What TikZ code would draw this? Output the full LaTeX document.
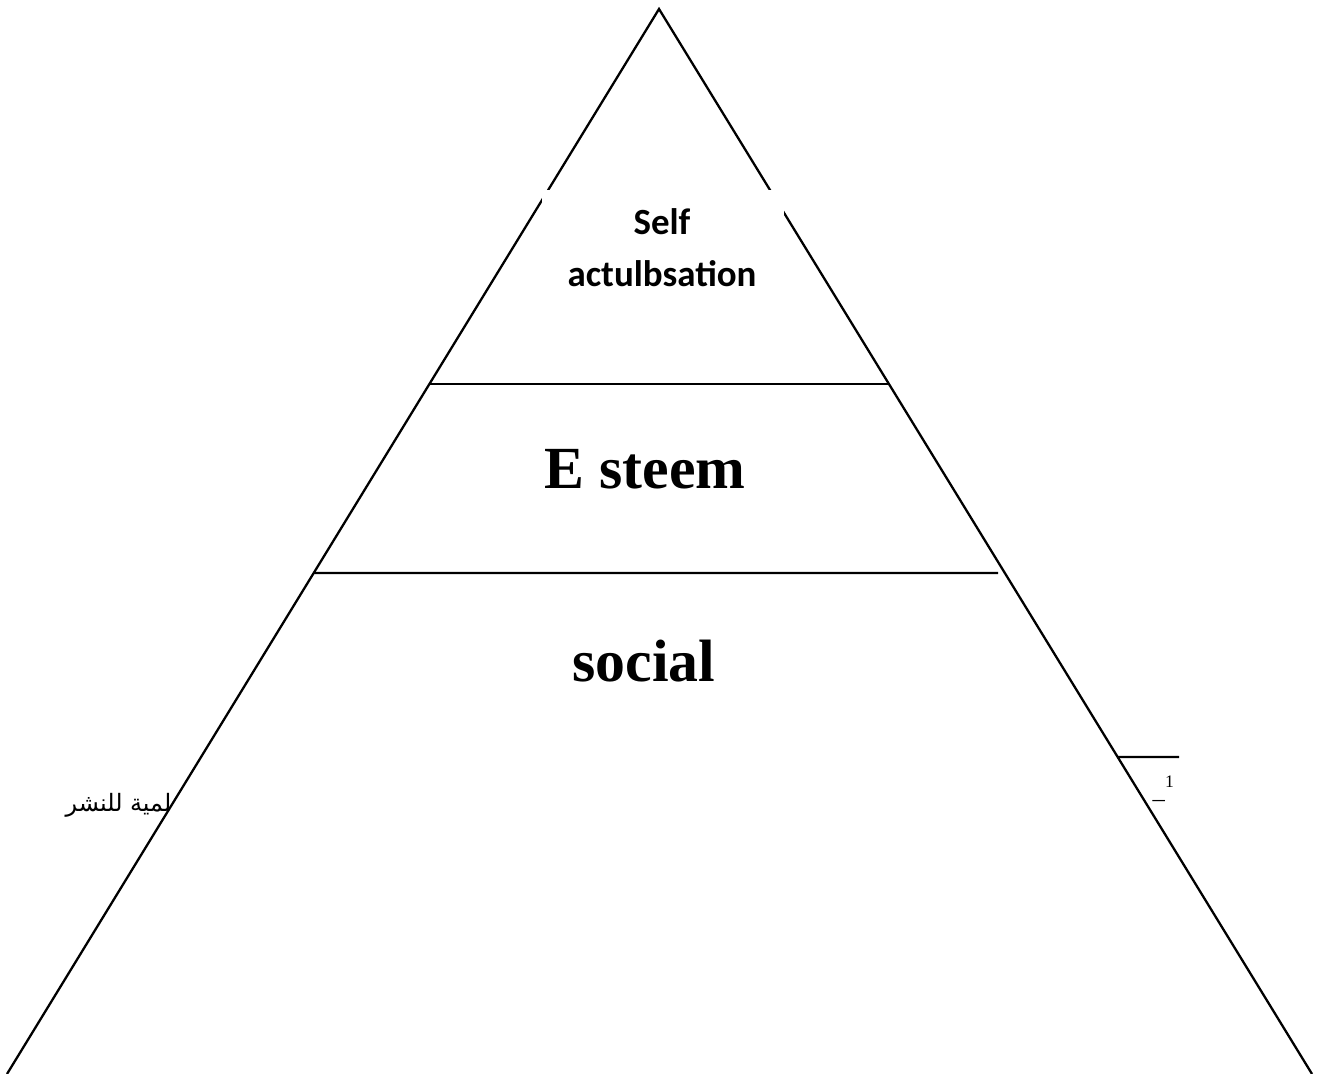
\documentclass[tikz,border=0pt]{standalone}
\usepackage{fontspec}
\setmainfont{Liberation Serif}
\newfontfamily\calibrifont{Carlito}
\newfontfamily\arabicfont[Script=Arabic]{DejaVu Sans}
\TeXXeTstate=1
\usetikzlibrary{calc,positioning}

\tikzset{
    edge/.style={line width=0.65pt, black},
    level/.style={font=\bfseries\fontsize{17}{19}\selectfont, inner sep=0pt, anchor=base},
    toplevel/.style={font=\calibrifont\bfseries\fontsize{10.5}{12}\selectfont, inner sep=0pt, anchor=base}
}

\begin{document}
\begin{tikzpicture}[x=0.01cm, y=-0.01cm]
    \useasboundingbox (0,0) rectangle (1322,1074);

    % Corners of the pyramid
        \coordinate (top) at (659,9);
        \coordinate (bl) at (7,1074);
        \coordinate (br) at (1312,1074);

        % Draw the two sides
        \draw[edge] (bl) -- (top) -- (br);

        % Draw the layer lines
        \draw[edge] ($(top)!0.3521!(bl)$) -- ($(top)!0.3521!(br)$);
        \draw[edge] ($(top)!0.5296!(bl)$) -- (998,573);

        % White box over the tip
        \node[fill=white, inner sep=0pt, minimum width=2.42cm, minimum height=1.1cm, anchor=north west] (tipbox) at (541,189) {};
        \node[toplevel] (self) at (662,235) {Self};
        \node[toplevel] (actual) at (662,287) {actulbsation};

        % Layer names
        \node[level] (esteem) at (645,489) {E steem};
        \node[level] (social) at (644,682) {social};

        % Side marks
        \node[font=\arabicfont\fontsize{6.8}{9}\selectfont, inner sep=0pt, anchor=base east] (arab) at (172,812) {\beginR لمية للنشر\endR};
        \draw[edge] ($(top)!0.7023!(br)$) -- (1179,757);
        \node[font=\fontsize{7}{8}\selectfont, inner sep=0pt, anchor=base west] (note) at (1152,798) {\_\textsuperscript{1}};
\end{tikzpicture}
\end{document}
